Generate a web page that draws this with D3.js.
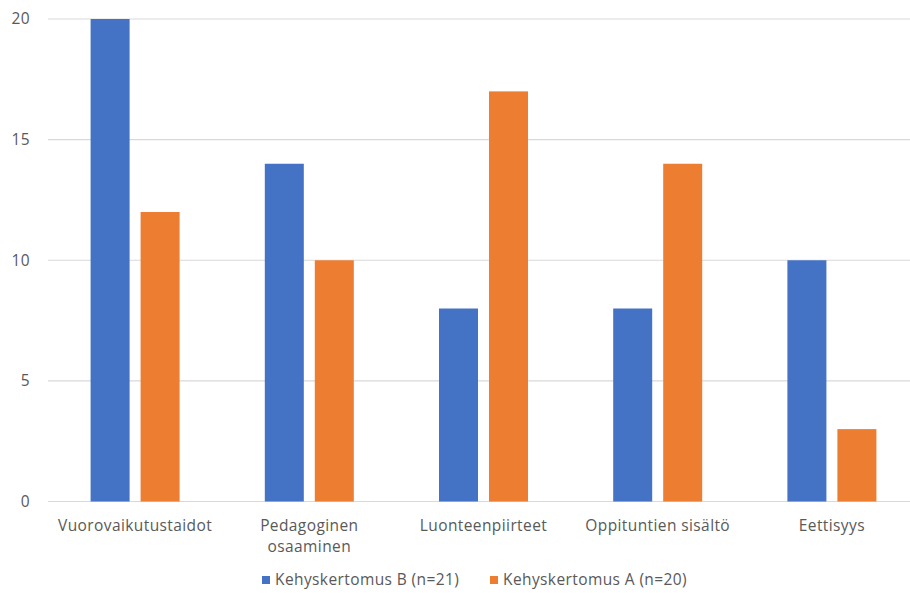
<!DOCTYPE html>
<html>
<head>
<meta charset="utf-8">
<script src="https://cdnjs.cloudflare.com/ajax/libs/d3/7.8.5/d3.min.js"></script>
<style>
  html, body { margin: 0; padding: 0; background: #fff; }
  svg { display: block; }
  text { font-family: "Open Sans", "Liberation Sans", sans-serif; fill: #595959; letter-spacing: 0.4px; }
</style>
</head>
<body>
<svg id="chart" width="910" height="593"></svg>
<script>
const categories = [["Vuorovaikutustaidot"], ["Pedagoginen", "osaaminen"], ["Luonteenpiirteet"], ["Oppituntien sisältö"], ["Eettisyys"]];
const seriesNames = ["Kehyskertomus B (n=21)", "Kehyskertomus A (n=20)"];
const seriesB = [20, 14, 8, 8, 10];
const seriesA = [12, 10, 17, 14, 3];
const yTicks = [0, 5, 10, 15, 20];
const colors = ["#4472C4", "#ED7D31"];

const svg = d3.select("#chart");
const plotLeft = 48, plotRight = 919, plotTop = 19, plotBottom = 501.5;
const fontSize = 15.5;

const x0 = d3.scaleBand().domain(d3.range(categories.length)).range([plotLeft, plotRight]).paddingInner(0).paddingOuter(0);
const x1 = d3.scaleBand().domain([0, 1]).range([0, x0.bandwidth()]).paddingInner(0.22).paddingOuter(0.852);
const y = d3.scaleLinear().domain([0, 20]).range([plotBottom, plotTop]);

// gridlines
svg.append("g").selectAll("line").data(yTicks).join("line")
  .attr("x1", plotLeft).attr("x2", 910)
  .attr("y1", d => y(d)).attr("y2", d => y(d))
  .attr("stroke", "#D9D9D9").attr("stroke-width", 1.2);

// y labels
svg.append("g").selectAll("text").data(yTicks).join("text")
  .attr("x", 30).attr("y", d => y(d)).attr("dy", "0.35em")
  .attr("text-anchor", "end").attr("font-size", fontSize)
  .text(d => d);

// bars
const data = [seriesB, seriesA];
const groups = svg.append("g").selectAll("g").data(categories).join("g")
  .attr("transform", (d, i) => `translate(${x0(i)},0)`);
groups.selectAll("rect").data((d, i) => data.map((s, k) => ({ k, v: s[i] }))).join("rect")
  .attr("x", d => x1(d.k)).attr("width", x1.bandwidth())
  .attr("y", d => y(d.v)).attr("height", d => y(0) - y(d.v))
  .attr("fill", d => colors[d.k]);

// category labels
groups.append("text")
  .attr("x", x0.bandwidth() / 2).attr("y", 531)
  .attr("text-anchor", "middle").attr("font-size", fontSize)
  .selectAll("tspan").data(d => d).join("tspan")
  .attr("x", x0.bandwidth() / 2).attr("dy", (d, j) => j === 0 ? 0 : 21)
  .text(d => d);

// legend
const legendX = [262, 490];
const leg = svg.append("g").selectAll("g").data(seriesNames).join("g")
  .attr("transform", (d, i) => `translate(${legendX[i]},576)`);
leg.append("rect").attr("width", 8).attr("height", 8).attr("fill", (d, i) => colors[i]);
leg.append("text").attr("x", 13).attr("y", 9).attr("font-size", fontSize).text(d => d);
</script>
</body>
</html>
